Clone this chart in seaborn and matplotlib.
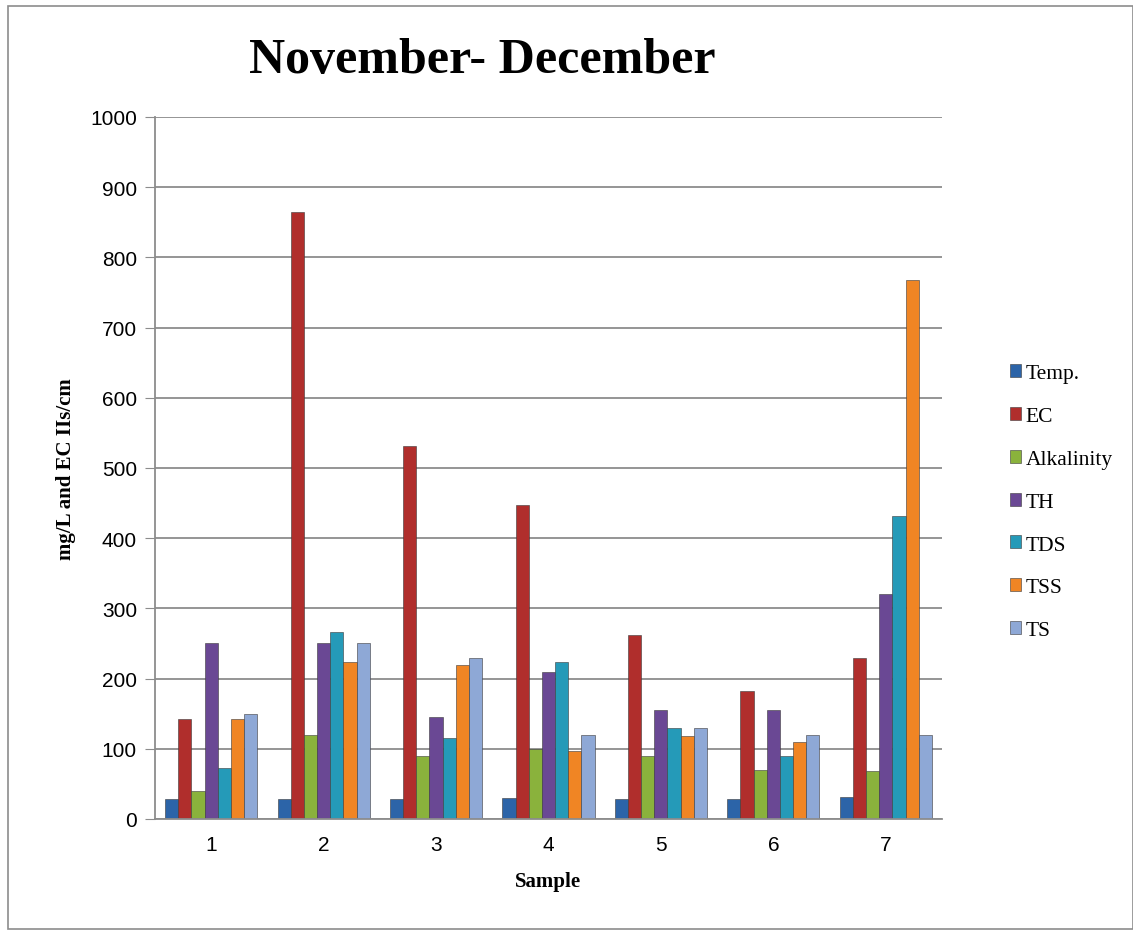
import matplotlib
matplotlib.use("Agg")
import matplotlib.pyplot as plt
import seaborn as sns
import pandas as pd
from matplotlib.patches import Rectangle

samples = ["1", "2", "3", "4", "5", "6", "7"]
params = ["Temp.", "EC", "Alkalinity", "TH", "TDS", "TSS", "TS"]
temp = [28, 28, 28, 30, 28, 28, 32]
ec = [142, 864, 532, 447, 262, 182, 230]
alkalinity = [40, 120, 90, 100, 90, 70, 68]
th = [250, 250, 145, 210, 155, 155, 320]
tds = [72, 266, 115, 223, 129, 90, 432]
tss = [142, 223, 220, 97, 118, 110, 768]
ts = [150, 250, 230, 120, 130, 120, 120]
colors = ["#2C64A8", "#B02E2C", "#8AB23C", "#6A4894", "#259AB8", "#F08524", "#8EA8D6"]

series = [temp, ec, alkalinity, th, tds, tss, ts]
rows = []
for p, vals in zip(params, series):
    for s, v in zip(samples, vals):
        rows.append({"Sample": s, "Parameter": p, "Value": v})
df = pd.DataFrame(rows)

sns.set_style("white")
plt.rcParams["text.color"] = "black"
plt.rcParams["axes.labelcolor"] = "black"
plt.rcParams["xtick.color"] = "black"
plt.rcParams["ytick.color"] = "black"

fig = plt.figure(figsize=(11.33, 9.37), dpi=100)
ax = fig.add_axes([0.1368, 0.1249, 0.6946, 0.7492])

sns.barplot(data=df, x="Sample", y="Value", hue="Parameter", hue_order=params,
            palette=colors, saturation=1, width=0.82, gap=0, ax=ax, legend=True,
            edgecolor="#3a3a3a", linewidth=0.4)

ax.set_ylim(0, 1000)
ax.set_yticks(range(0, 1001, 100))
ax.yaxis.grid(True, color="#8c8c8c", linewidth=1.3)
ax.set_axisbelow(True)
for side in ["top", "right"]:
    ax.spines[side].set_visible(False)
ax.spines["left"].set_color("#8c8c8c")
ax.spines["bottom"].set_color("#8c8c8c")
ax.spines["left"].set_linewidth(1.3)
ax.spines["bottom"].set_linewidth(1.3)
ax.tick_params(axis="y", left=True, length=7, color="#8c8c8c", labelcolor="black", labelsize=15, pad=6)
ax.tick_params(axis="x", bottom=False, labelcolor="black", labelsize=15, pad=8)
for lab in ax.get_xticklabels() + ax.get_yticklabels():
    lab.set_fontfamily("Liberation Sans")

ax.set_xlabel("Sample", fontfamily="Liberation Serif", fontweight="bold", fontsize=15, labelpad=12)
ax.set_ylabel("mg/L and EC IIs/cm", fontfamily="Liberation Serif", fontweight="bold", fontsize=15, labelpad=10)

fig.text(0.426, 0.935, "November- December", ha="center", va="center",
         fontfamily="Liberation Serif", fontweight="bold", fontsize=36, color="black")

leg = ax.legend(loc="center left", bbox_to_anchor=(0.874, 0.463), bbox_transform=fig.transFigure,
                frameon=False, prop={"family": "Liberation Serif", "size": 15.5},
                handlelength=0.55, handleheight=0.55, handletextpad=0.2, labelspacing=1.1)

fig.patches.append(Rectangle((0.007, 0.007), 0.993, 0.985, transform=fig.transFigure,
                             fill=False, edgecolor="#8c8c8c", linewidth=1.2))

fig.savefig("out.png", dpi=100)
